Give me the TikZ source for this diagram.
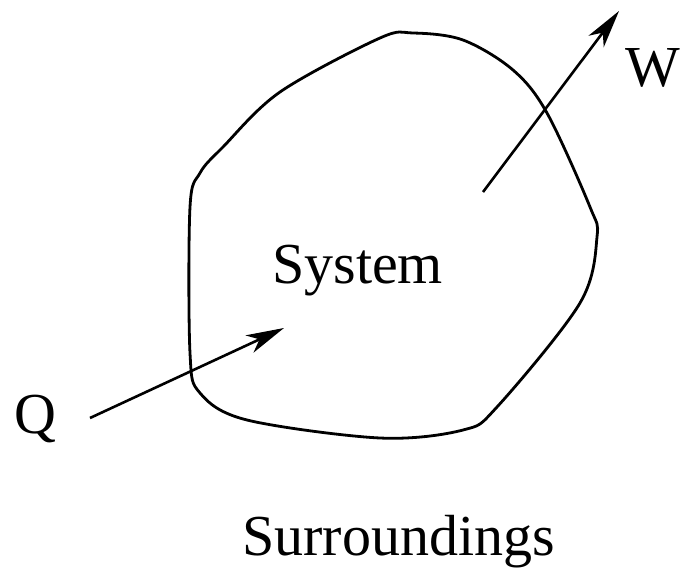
\documentclass[tikz,border=0pt]{standalone}
\usepackage{fontspec}
\setmainfont{Liberation Serif}
\usetikzlibrary{arrows.meta}
\begin{document}
\begin{tikzpicture}[x=1pt,y=-1pt,
  lbl/.style={inner sep=0pt,font=\fontsize{58}{60}\selectfont},
  boundary/.style={line width=2.8pt,line join=round},
  flow/.style={line width=2.6pt,-{Stealth[length=38pt,width=19pt,inset=11pt]}}]
\useasboundingbox (0,0) rectangle (681,568);
\draw[boundary] plot[smooth cycle,tension=0.55] coordinates {
  (413,33) (463,40) (513,70) (547,113) (590,207) (597,237) (580,303)
  (497,407) (463,430) (380,438) (247,420) (200,393) (190,353)
  (190,207) (200,173) (223,147) (280,92) (380,38)};
\node[lbl,anchor=base west] (sys) at (272,283) {System};
\node[lbl,anchor=base west] (sur) at (242,555) {Surroundings};
\node[lbl,anchor=base west] (Q) at (14,433) {Q};
\node[lbl,anchor=base west] (W) at (625,86) {W};
\coordinate (qs) at (90,418);
\coordinate (qe) at (284,328);
\coordinate (ws) at (483,192);
\coordinate (we) at (619,11);
\draw[flow] (qs) -- (qe);
\draw[flow] (ws) -- (we);
\end{tikzpicture}
\end{document}
